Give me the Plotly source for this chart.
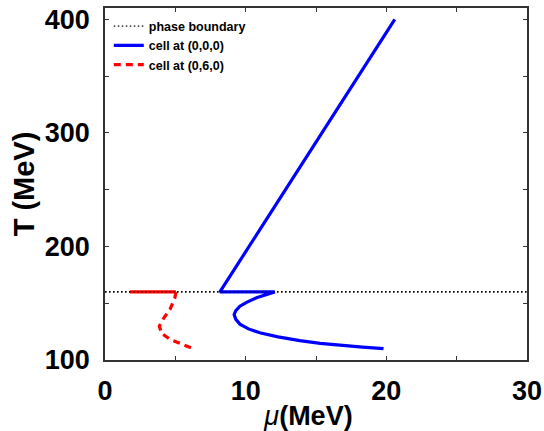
import plotly.graph_objects as go

# Phase boundary
pb_mu = [0, 30]
pb_T = [160, 160]

# cell at (0,0,0)
blue_mu = [20.6, 8.17, 12.07, 11.4, 10.77, 10.1, 9.59, 9.3, 9.18, 9.3, 9.59, 10.2, 11.0, 12.3, 13.85, 15.3, 16.7, 18.3, 19.8]
blue_T = [400, 160, 160, 157.3, 154.8, 151.0, 147.4, 143.5, 140.0, 135.8, 131.6, 127.4, 124.0, 120.4, 117.0, 114.7, 113.0, 111.4, 110.0]

# cell at (0,6,0)
red_flat_mu = [1.78, 5.04]
red_flat_T = [160, 160]
red_mu = [5.04, 4.97, 4.62, 4.19, 3.86, 4.03, 4.62, 5.45, 6.16]
red_T = [160, 154.8, 144.5, 137.2, 129.9, 123.4, 118.2, 113.8, 110.5]

x_tickvals = [0, 5, 10, 15, 20, 25, 30]
x_ticktext = ["0", "", "10", "", "20", "", "30"]
y_tickvals = [100, 150, 200, 250, 300, 350, 400]
y_ticktext = ["100", "", "200", "", "300", "", "400"]

FONT = "Liberation Sans"

fig = go.Figure()
fig.add_trace(go.Scatter(x=pb_mu, y=pb_T, mode="lines", name="phase boundary",
                         line=dict(color="black", width=1.3, dash="1.5px,2.5px")))
fig.add_trace(go.Scatter(x=blue_mu, y=blue_T, mode="lines", name="cell at (0,0,0)",
                         line=dict(color="#0000ff", width=3.2)))
fig.add_trace(go.Scatter(x=red_flat_mu, y=red_flat_T, mode="lines", showlegend=False,
                         line=dict(color="#ff0000", width=3.2)))
fig.add_trace(go.Scatter(x=red_mu, y=red_T, mode="lines", name="cell at (0,6,0)",
                         line=dict(color="#ff0000", width=3.2, dash="7px,5px")))
# redraw boundary on top
fig.add_trace(go.Scatter(x=pb_mu, y=pb_T, mode="lines", showlegend=False,
                         line=dict(color="black", width=1.3, dash="1.5px,2.5px")))

axis_common = dict(showline=True, linecolor="#333333", linewidth=1.5, mirror="ticks",
                   ticks="inside", ticklen=4, tickcolor="#333333", tickwidth=1,
                   showgrid=False, zeroline=False, automargin=False,
                   tickfont=dict(family=FONT, size=27, color="black", weight="bold"))

fig.update_xaxes(range=[0, 30], tickvals=x_tickvals, ticktext=x_ticktext,
                 title=dict(text='<span style="font-weight:normal"><i>μ</i></span>(MeV)&nbsp;&nbsp;',
                            font=dict(family=FONT, size=27, color="black", weight="bold"),
                            standoff=3),
                 ticklabelstandoff=6, **axis_common)
fig.update_yaxes(range=[100, 410], tickvals=y_tickvals, ticktext=y_ticktext,
                 title=dict(text="T (MeV)",
                            font=dict(family=FONT, size=29, color="black", weight="bold"),
                            standoff=2),
                 ticklabelstandoff=8, **axis_common)

fig.update_layout(
    width=544, height=431,
    margin=dict(l=105, r=17, t=8, b=71),
    plot_bgcolor="white", paper_bgcolor="white",
    showlegend=True,
    legend=dict(x=0.009, y=0.99, xanchor="left", yanchor="top",
                bgcolor="rgba(0,0,0,0)", borderwidth=0,
                font=dict(family=FONT, size=12.5, color="black", weight="bold"),
                tracegroupgap=0),
)

fig.write_html("out.html", config={"displayModeBar": False},
               post_script="document.body.style.margin='0px';")
